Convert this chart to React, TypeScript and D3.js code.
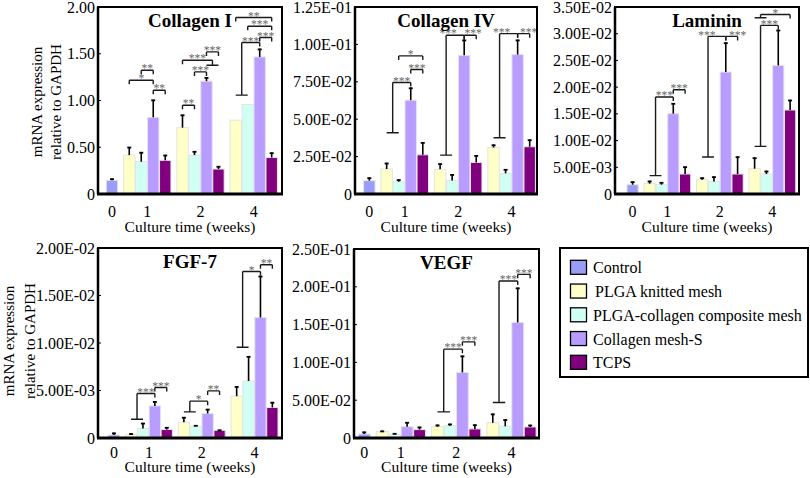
import React from "react";
import * as d3 from "d3";

// ---------- data ----------
const weekLabels = ["0", "1", "2", "4"];
const seriesNames = ["Control", "PLGA knitted mesh", "PLGA-collagen composite mesh", "Collagen mesh-S", "TCPS"];
const seriesColors = ["#9a9df7", "#ffffc8", "#d0fff4", "#b89cff", "#800080"];

// each panel: control (week 0) [mean, upper error], then weeks 1,2,4 x [PLGA, PLGA-collagen, Collagen mesh-S, TCPS]
const col1Control = [0.146, 0.167];
const col1Mean = [[0.416, 0.345, 0.82, 0.36], [0.71, 0.416, 1.207, 0.267], [0.79, 0.957, 1.466, 0.39]];
const col1Err = [[0.505, 0.45, 1.01, 0.42], [0.85, 0.46, 1.25, 0.3], [0.79, 0.957, 1.555, 0.445]];
const col1Ticks = [0, 0.5, 1.0, 1.5, 2.0];
const col1TickLabels = ["0", "0.50", "1.00", "1.50", "2.00"];

const col4Control = [0.0089, 0.0111];
const col4Mean = [[0.0167, 0.0082, 0.0627, 0.0262], [0.0165, 0.0091, 0.0927, 0.0211], [0.0311, 0.0138, 0.0932, 0.0316]];
const col4Err = [[0.0209, 0.0098, 0.0712, 0.0347], [0.0205, 0.0133, 0.1032, 0.026], [0.0331, 0.0167, 0.1032, 0.0365]];
const col4Ticks = [0, 0.025, 0.05, 0.075, 0.1, 0.125];
const col4TickLabels = ["0", "2.50E-02", "5.00E-02", "7.50E-02", "1.00E-01", "1.25E-01"];

const lamControl = [0.00174, 0.00236];
const lamMean = [[0.00193, 0.00174, 0.01503, 0.00374], [0.00268, 0.00236, 0.02283, 0.00374], [0.00474, 0.00374, 0.02407, 0.01572]];
const lamErr = [[0.00249, 0.00225, 0.01703, 0.00517], [0.00311, 0.0033, 0.02838, 0.00704], [0.00685, 0.00436, 0.03075, 0.01765]];
const lamTicks = [0, 0.005, 0.01, 0.015, 0.02, 0.025, 0.03, 0.035];
const lamTickLabels = ["0", "5.00E-03", "1.00E-02", "1.50E-02", "2.00E-02", "2.50E-02", "3.00E-02", "3.50E-02"];

const fgfControl = [0.00032, 0.00057];
const fgfMean = [[0.00035, 0.001, 0.00338, 0.00089], [0.00166, 0.00124, 0.00258, 0.00081], [0.0044, 0.006, 0.01268, 0.00321]];
const fgfErr = [[0.0005, 0.0016, 0.00388, 0.00116], [0.00222, 0.00137, 0.00307, 0.00089], [0.00546, 0.00863, 0.01708, 0.0038]];
const fgfTicks = [0, 0.005, 0.01, 0.015, 0.02];
const fgfTickLabels = ["0", "5.00E-03", "1.00E-02", "1.50E-02", "2.00E-02"];

const vegfControl = [0.0053, 0.0085];
const vegfMean = [[0.0085, 0.0049, 0.015, 0.0111], [0.015, 0.0163, 0.0867, 0.012], [0.02, 0.0155, 0.1528, 0.0146]];
const vegfErr = [[0.0098, 0.0066, 0.0212, 0.015], [0.0177, 0.019, 0.109, 0.018], [0.0323, 0.0248, 0.199, 0.0176]];
const vegfTicks = [0, 0.05, 0.1, 0.15, 0.2, 0.25];
const vegfTickLabels = ["0", "5.00E-02", "1.00E-01", "1.50E-01", "2.00E-01", "2.50E-01"];

// significance brackets: g = week group (0:1wk,1:2wk,2:4wk); ends are a bar index or a foot spanning bars at value v
type End = { bar: number } | { foot: [number, number]; v: number };
interface Br { g: number; l: End; r: End; y: number; t: string; dx?: number }

const col1Brackets: Br[] = [
  { g: 0, l: { bar: 0 }, r: { bar: 2 }, y: 1.217, t: "*" },
  { g: 0, l: { bar: 1 }, r: { bar: 2 }, y: 1.324, t: "**" },
  { g: 0, l: { bar: 2 }, r: { bar: 3 }, y: 1.11, t: "**" },
  { g: 1, l: { bar: 0 }, r: { bar: 1 }, y: 0.95, t: "**" },
  { g: 1, l: { bar: 1 }, r: { bar: 2 }, y: 1.306, t: "***" },
  { g: 1, l: { bar: 0 }, r: { foot: [2, 3], v: 1.377 }, y: 1.431, t: "***" },
  { g: 1, l: { bar: 2 }, r: { bar: 3 }, y: 1.52, t: "***" },
  { g: 2, l: { foot: [0, 1], v: 1.057 }, r: { bar: 2 }, y: 1.62, t: "***" },
  { g: 2, l: { bar: 2 }, r: { bar: 3 }, y: 1.673, t: "***" },
  { g: 2, l: { bar: 1 }, r: { bar: 3 }, y: 1.794, t: "***" },
  { g: 2, l: { bar: 0 }, r: { bar: 3 }, y: 1.887, t: "**" },
];
const col4Brackets: Br[] = [
  { g: 0, l: { foot: [0, 1], v: 0.0409 }, r: { bar: 2 }, y: 0.0745, t: "***" },
  { g: 0, l: { bar: 2 }, r: { bar: 3 }, y: 0.0832, t: "***" },
  { g: 0, l: { bar: 1 }, r: { bar: 3 }, y: 0.0923, t: "*" },
  { g: 1, l: { foot: [0, 1], v: 0.026 }, r: { bar: 2 }, y: 0.1061, t: "***", dx: -7 },
  { g: 1, l: { bar: 2 }, r: { bar: 3 }, y: 0.1061, t: "***", dx: 3 },
  { g: 2, l: { foot: [0, 1], v: 0.0376 }, r: { bar: 2 }, y: 0.1072, t: "***", dx: -7 },
  { g: 2, l: { bar: 2 }, r: { bar: 3 }, y: 0.1072, t: "***", dx: 5 },
];
const lamBrackets: Br[] = [
  { g: 0, l: { foot: [0, 1], v: 0.00343 }, r: { bar: 2 }, y: 0.01815, t: "***" },
  { g: 0, l: { bar: 2 }, r: { bar: 3 }, y: 0.01952, t: "***" },
  { g: 1, l: { foot: [0, 1], v: 0.00692 }, r: { bar: 2 }, y: 0.0295, t: "***", dx: -10 },
  { g: 1, l: { bar: 2 }, r: { bar: 3 }, y: 0.0295, t: "***", dx: 6 },
  { g: 2, l: { foot: [0, 1], v: 0.00891 }, r: { bar: 2 }, y: 0.03156, t: "***" },
  { g: 2, l: { foot: [0, 1], v: 0.033 }, r: { bar: 3 }, y: 0.0336, t: "*" },
];
const fgfBrackets: Br[] = [
  { g: 0, l: { foot: [0, 1], v: 0.00198 }, r: { bar: 2 }, y: 0.00469, t: "***" },
  { g: 0, l: { bar: 2 }, r: { bar: 3 }, y: 0.00532, t: "***" },
  { g: 1, l: { foot: [0, 1], v: 0.00275 }, r: { bar: 2 }, y: 0.00388, t: "*" },
  { g: 1, l: { bar: 2 }, r: { bar: 3 }, y: 0.00496, t: "**" },
  { g: 2, l: { foot: [0, 1], v: 0.00955 }, r: { bar: 2 }, y: 0.01753, t: "*" },
  { g: 2, l: { bar: 2 }, r: { bar: 3 }, y: 0.01824, t: "**" },
];
const vegfBrackets: Br[] = [
  { g: 1, l: { foot: [0, 1], v: 0.0345 }, r: { bar: 2 }, y: 0.1175, t: "***" },
  { g: 1, l: { bar: 2 }, r: { bar: 3 }, y: 0.1272, t: "***" },
  { g: 2, l: { foot: [0, 1], v: 0.0469 }, r: { bar: 2 }, y: 0.2076, t: "***" },
  { g: 2, l: { bar: 2 }, r: { bar: 3 }, y: 0.2165, t: "***" },
];

const panelTitles = ["Collagen I", "Collagen IV", "Laminin", "FGF-7", "VEGF"];

// ---------- layout ----------
const FONT = "'Liberation Serif', 'Times New Roman', serif";
const GAP = 0.44;
const TOTAL = 13 + 3 * GAP;

interface PanelLayout {
  x0: number; y0: number; x1: number; y1: number; padL: number; padR: number;
  tickDy: number; titleDy: number; yTitle?: [number, number, number];
}
const layouts: PanelLayout[] = [
  { x0: 98, y0: 7, x1: 282, y1: 194, padL: 8, padR: 4.3, tickDy: 22.5, titleDy: 37.5, yTitle: [42, 61, 102] },
  { x0: 355, y0: 7, x1: 537, y1: 194, padL: 8.3, padR: 1.3, tickDy: 22.5, titleDy: 37.5 },
  { x0: 615, y0: 7, x1: 799, y1: 194, padL: 11.7, padR: 3, tickDy: 22.5, titleDy: 37.5 },
  { x0: 98, y0: 248, x1: 282, y1: 438, padL: 10, padR: 3.7, tickDy: 20, titleDy: 34, yTitle: [14, 35, 341] },
  { x0: 354, y0: 249, x1: 539, y1: 438, padL: 4, padR: 2.6, tickDy: 20, titleDy: 34 },
];

const panelData = [
  { control: col1Control, mean: col1Mean, err: col1Err, ticks: col1Ticks, labels: col1TickLabels, br: col1Brackets },
  { control: col4Control, mean: col4Mean, err: col4Err, ticks: col4Ticks, labels: col4TickLabels, br: col4Brackets },
  { control: lamControl, mean: lamMean, err: lamErr, ticks: lamTicks, labels: lamTickLabels, br: lamBrackets },
  { control: fgfControl, mean: fgfMean, err: fgfErr, ticks: fgfTicks, labels: fgfTickLabels, br: fgfBrackets },
  { control: vegfControl, mean: vegfMean, err: vegfErr, ticks: vegfTicks, labels: vegfTickLabels, br: vegfBrackets },
];

const barStart = (g: number, i: number) => 1 + GAP + g * (4 + GAP) + i;

function Panel({ idx }: { idx: number }) {
  const L = layouts[idx];
  const D = panelData[idx];
  const ymax = D.ticks[D.ticks.length - 1];
  const xs = d3.scaleLinear().domain([0, TOTAL]).range([L.x0 + L.padL, L.x1 - L.padR]);
  const ys = d3.scaleLinear().domain([0, ymax]).range([L.y1, L.y0]);
  const bw = xs(1) - xs(0);
  const cx = (g: number, i: number) => xs(barStart(g, i) + 0.5);

  const bars: { x: number; v: number; e: number; c: string }[] = [];
  bars.push({ x: xs(0), v: D.control[0], e: D.control[1], c: seriesColors[0] });
  D.mean.forEach((grp, g) =>
    grp.forEach((v, i) => bars.push({ x: xs(barStart(g, i)), v, e: D.err[g][i], c: seriesColors[i + 1] }))
  );

  const endX = (g: number, e: End) => ("bar" in e ? cx(g, e.bar) : xs(barStart(g, e.foot[0] + 1)));
  const endPath = (g: number, e: End, yTop: number) => {
    const x = endX(g, e);
    if ("bar" in e) return `M${x},${yTop + 4}V${yTop}`;
    const fy = ys(e.v);
    return `M${cx(g, e.foot[0])},${fy}H${cx(g, e.foot[1])}M${x},${fy}V${yTop}`;
  };

  const groupCenters = [xs(0.5), ...[0, 1, 2].map((g) => xs(barStart(g, 2)))];
  const xMid = (L.x0 + L.x1) / 2;

  return (
    <g>
      {/* bars */}
      {bars.map((b, k) => (
        <rect key={k} x={b.x + 0.3} y={ys(b.v)} width={bw - 0.6} height={ys(0) - ys(b.v)}
          fill={b.c} stroke="#e4e4e4" strokeWidth={1} />
      ))}
      {/* error bars */}
      {bars.map((b, k) =>
        b.e > b.v ? (
          <g key={"e" + k}>
            <line x1={b.x + bw / 2} x2={b.x + bw / 2} y1={ys(b.v)} y2={ys(b.e)} stroke="#000" strokeWidth={1.6} />
            <line x1={b.x + bw / 2 - 2} x2={b.x + bw / 2 + 2} y1={ys(b.e) + 0.8} y2={ys(b.e) + 0.8} stroke="#000" strokeWidth={1.8} />
          </g>
        ) : null
      )}
      {/* brackets */}
      {D.br.map((b, k) => {
        const yt = ys(b.y);
        const xl = endX(b.g, b.l);
        const xr = endX(b.g, b.r);
        const d = `${endPath(b.g, b.l, yt)}M${xl},${yt}H${xr}${endPath(b.g, b.r, yt)}`;
        return (
          <g key={"b" + k}>
            <path d={d} fill="none" stroke="#1a1a1a" strokeWidth={1.4} />
            <text x={(xl + xr) / 2 + (b.dx || 0)} y={yt + 2.2} textAnchor="middle" fontFamily={FONT}
              fontSize={11.5} fill="#666">{b.t}</text>
          </g>
        );
      })}
      {/* frame */}
      <rect x={L.x0} y={L.y0} width={L.x1 - L.x0} height={L.y1 - L.y0} fill="none" stroke="#000" strokeWidth={2} />
      <line x1={L.x0 - 1} x2={L.x1 + 1} y1={L.y1} y2={L.y1} stroke="#000" strokeWidth={3} />
      <line x1={L.x0} x2={L.x0} y1={L.y0} y2={L.y1} stroke="#000" strokeWidth={2.5} />
      {/* y ticks */}
      {D.ticks.map((t, k) => (
        <g key={"t" + k}>
          {k > 0 && k < D.ticks.length - 1 ? (
            <line x1={L.x0} x2={L.x0 + 3} y1={ys(t)} y2={ys(t)} stroke="#000" strokeWidth={1} />
          ) : null}
          <text x={L.x0 - 3} y={ys(t)} dy="0.35em" textAnchor="end" fontFamily={FONT} fontSize={16} fill="#000">
            {D.labels[k]}
          </text>
        </g>
      ))}
      {/* x ticks */}
      {weekLabels.map((w, k) => (
        <text key={"x" + k} x={groupCenters[k]} y={L.y1 + L.tickDy} textAnchor="middle" fontFamily={FONT} fontSize={16}>{w}</text>
      ))}
      <text x={xMid} y={L.y1 + L.titleDy} textAnchor="middle" fontFamily={FONT} fontSize={15.5}>Culture time (weeks)</text>
      {/* title */}
      <text x={xMid} y={L.y0 + 19.5} textAnchor="middle" fontFamily={FONT} fontSize={19} fontWeight="bold">
        {panelTitles[idx]}
      </text>
      {L.yTitle ? (
        <g>
          <text transform={`translate(${L.yTitle[0]},${L.yTitle[2]}) rotate(-90)`} textAnchor="middle" fontFamily={FONT} fontSize={15}>
            mRNA expression
          </text>
          <text transform={`translate(${L.yTitle[1]},${L.yTitle[2]}) rotate(-90)`} textAnchor="middle" fontFamily={FONT} fontSize={15}>
            relative to GAPDH
          </text>
        </g>
      ) : null}
    </g>
  );
}

function Legend() {
  const ly = d3.scaleLinear().domain([0, 4]).range([273.3, 368.3]);
  return (
    <g>
      <rect x={560} y={248} width={248} height={129} fill="#fff" stroke="#000" strokeWidth={2} />
      {seriesNames.map((n, i) => (
        <g key={i}>
          <rect x={570.5} y={ly(i) - 13} width={16} height={14} fill={seriesColors[i]} stroke="#000" strokeWidth={1.3} />
          <text x={i === 1 ? 595 : 593} y={ly(i)} fontFamily={FONT} fontSize={16}>{n}</text>
        </g>
      ))}
    </g>
  );
}

export default function App() {
  return (
    <svg width={810} height={478} viewBox="0 0 810 478" style={{ position: "absolute", left: 0, top: 0, background: "#fff" }}>
      <rect x={0} y={0} width={810} height={478} fill="#fff" />
      {layouts.map((_, i) => (
        <Panel key={i} idx={i} />
      ))}
      <Legend />
    </svg>
  );
}
